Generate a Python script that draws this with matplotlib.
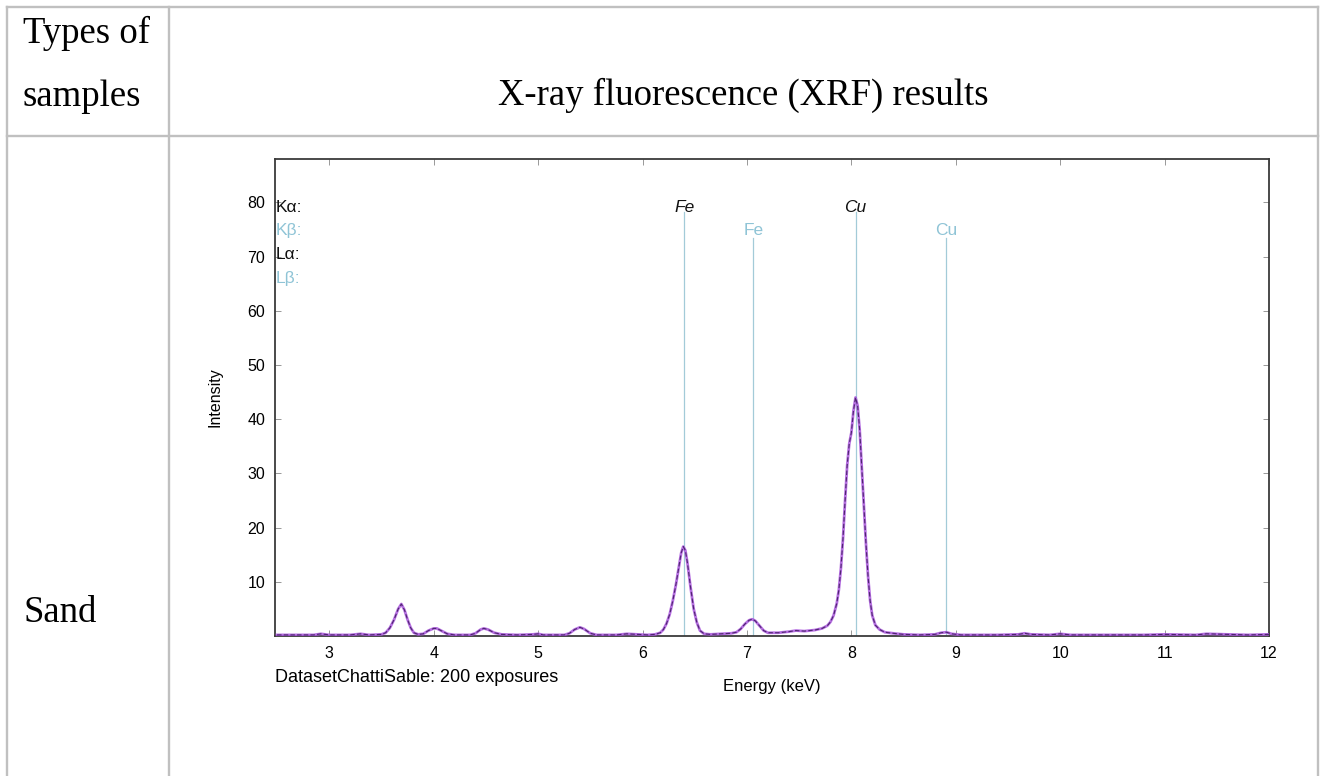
import matplotlib
matplotlib.use("Agg")
import matplotlib.pyplot as plt
from matplotlib.lines import Line2D

# XRF spectrum of the sand sample (energy in keV, counts)
energy = [2.50, 2.70, 2.85, 2.92, 3.00, 3.20, 3.30, 3.38, 3.50,
          3.54, 3.58, 3.62, 3.66, 3.69, 3.72, 3.75, 3.78, 3.81, 3.85,
          3.90, 3.95, 4.00, 4.03, 4.08, 4.13, 4.20, 4.35,
          4.40, 4.45, 4.48, 4.52, 4.58, 4.65, 4.80, 4.95, 5.00, 5.05, 5.25,
          5.30, 5.35, 5.40, 5.44, 5.50, 5.56, 5.75, 5.85, 5.95, 6.05, 6.12,
          6.17, 6.20, 6.23, 6.26, 6.29, 6.32, 6.35, 6.37, 6.39, 6.41, 6.43,
          6.46, 6.49, 6.52, 6.55, 6.59, 6.65, 6.75, 6.85,
          6.90, 6.94, 6.98, 7.02, 7.05, 7.08, 7.12, 7.16, 7.20, 7.30, 7.40,
          7.47, 7.55, 7.65, 7.72, 7.77,
          7.80, 7.83, 7.86, 7.88, 7.90, 7.92, 7.94, 7.96, 7.98, 8.00, 8.02,
          8.04, 8.06, 8.08, 8.10, 8.12, 8.14, 8.16, 8.18, 8.20, 8.23, 8.27,
          8.32, 8.40, 8.50, 8.65, 8.80, 8.86, 8.91, 8.96, 9.05, 9.40, 9.60,
          9.66, 9.72, 9.90, 10.00, 10.10, 10.40, 10.80, 11.00, 11.30, 11.40,
          11.60, 11.80, 12.00]
counts = [0.2, 0.2, 0.2, 0.4, 0.2, 0.2, 0.4, 0.2, 0.3,
          0.6, 1.5, 3.0, 5.0, 5.9, 4.8, 3.0, 1.5, 0.6, 0.3,
          0.4, 1.0, 1.4, 1.4, 0.9, 0.4, 0.2, 0.2,
          0.5, 1.2, 1.4, 1.2, 0.6, 0.3, 0.2, 0.3, 0.4, 0.2, 0.2,
          0.5, 1.2, 1.6, 1.3, 0.5, 0.2, 0.2, 0.4, 0.3, 0.2, 0.3,
          0.6, 1.2, 2.3, 4.0, 6.5, 9.5, 13.0, 15.3, 16.5, 15.8, 13.5,
          9.0, 5.0, 2.5, 1.0, 0.4, 0.3, 0.4, 0.5,
          0.7, 1.3, 2.2, 2.9, 3.1, 2.8, 1.9, 1.0, 0.6, 0.6, 0.8,
          1.0, 0.9, 1.1, 1.4, 1.9,
          2.6, 3.8, 6.0, 8.5, 12.5, 18.0, 25.0, 31.5, 35.5, 37.5, 41.5,
          44.0, 42.5, 38.0, 31.0, 24.0, 17.0, 11.0, 6.5, 3.8, 2.0, 1.2,
          0.7, 0.5, 0.3, 0.2, 0.3, 0.6, 0.7, 0.4, 0.2, 0.2, 0.3,
          0.5, 0.3, 0.2, 0.4, 0.2, 0.2, 0.2, 0.3, 0.2, 0.4,
          0.3, 0.2, 0.3]

# emission line markers
line_names = ["Fe", "Fe", "Cu", "Cu"]
line_energy = [6.40, 7.06, 8.04, 8.91]
line_kind = ["Ka", "Kb", "Ka", "Kb"]
line_top = {"Ka": 78.3, "Kb": 73.5}
label_y = {"Ka": 79.0, "Kb": 74.8}

legend_labels = ["K\u03b1:", "K\u03b2:", "L\u03b1:", "L\u03b2:"]
legend_y = [79.0, 74.8, 70.4, 66.0]

xticks = [3, 4, 5, 6, 7, 8, 9, 10, 11, 12]
yticks = [10, 20, 30, 40, 50, 60, 70, 80]

W, H = 1324, 776
blue = "#8fc4d6"
line_blue = "#a3cbd8"
grid_gray = "#c0c0c0"

plt.rcParams["font.family"] = ["Liberation Sans", "DejaVu Sans"]

fig = plt.figure(figsize=(W / 100, H / 100), dpi=100)


def fx(px):
    return px / W


def fy(py):
    return 1 - py / H


# table frame
def hline(y, x0, x1):
    fig.add_artist(Line2D([fx(x0), fx(x1)], [fy(y), fy(y)], color=grid_gray, lw=1.7,
                          transform=fig.transFigure))


def vline(x, y0, y1):
    fig.add_artist(Line2D([fx(x), fx(x)], [fy(y0), fy(y1)], color=grid_gray, lw=1.7,
                          transform=fig.transFigure))


hline(7, 7, 1318)
hline(136, 7, 1318)
vline(7, 7, 776)
vline(169, 7, 776)
vline(1318, 7, 776)

serif = dict(family=["Liberation Serif", "DejaVu Serif"], fontsize=26.5, color="black")
fig.text(fx(23), fy(43), "Types of", va="baseline", ha="left", **serif)
fig.text(fx(23), fy(106), "samples", va="baseline", ha="left", **serif)
fig.text(fx(743), fy(105), "X-ray fluorescence (XRF) results", va="baseline", ha="center", **serif)
fig.text(fx(23), fy(622), "Sand", va="baseline", ha="left", **serif)

# spectrum panel
ax = fig.add_axes([fx(275), fy(636), fx(1269) - fx(275), fy(159) - fy(636)])
ax.set_xlim(2.48, 12.0)
ax.set_ylim(0, 88)

for name, e, kind in zip(line_names, line_energy, line_kind):
    ax.plot([e, e], [0, line_top[kind]], color=line_blue, lw=0.9, zorder=1)
    if kind == "Ka":
        ax.text(e, label_y[kind], name, color="#111111", style="italic", fontsize=12.5,
                ha="center", va="center")
    else:
        ax.text(e, label_y[kind], name, color=blue, fontsize=12.5, ha="center", va="center")

ax.plot(energy, counts, color="#a956dc", lw=2.0, alpha=0.85, zorder=3)
ax.plot(energy, counts, color="#4e2470", lw=0.8, dashes=(4, 2), zorder=4)

for txt, yv, c in zip(legend_labels, legend_y, ["#111111", blue, "#111111", blue]):
    ax.text(2.485, yv, txt, color=c, fontsize=12.5, ha="left", va="center")

ax.set_xticks(xticks)
ax.set_yticks(yticks)
ax.tick_params(direction="in", length=4, width=0.6, color="#888888",
               top=True, right=True, labelsize=11.5, pad=7)
for s in ax.spines.values():
    s.set_color("#3a3a3a")
    s.set_linewidth(1.3)

ax.set_ylabel("Intensity", fontsize=11.5, labelpad=18)
fig.text(fx(772), fy(686), "Energy (keV)", fontsize=12, ha="center", va="center")
fig.text(fx(275), fy(678), "DatasetChattiSable: 200 exposures", fontsize=13,
         ha="left", va="center")

fig.savefig("out.png", dpi=100)
